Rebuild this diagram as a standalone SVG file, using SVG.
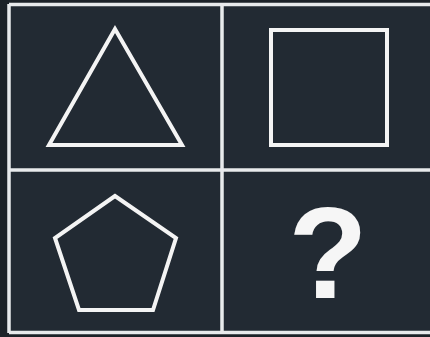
<svg xmlns="http://www.w3.org/2000/svg" width="430" height="337" viewBox="0 0 430 337">
<style>
.cell{fill:#222a33}
.grid{stroke:#e8eaec;stroke-width:3.5;fill:none}
.shape{stroke:#f4f4f4;stroke-width:4;fill:none;stroke-linejoin:miter}
.q{font-family:"Liberation Sans",Arial,sans-serif;font-weight:bold;font-size:130px;fill:#f6f6f6}
</style>
<rect width="430" height="337" fill="#1c2228"/>
<rect class="cell" x="9" y="4" width="421" height="329"/>
<g id="grid">
<path class="grid" d="M9,4.5H430M9,4V333M9,332.5H430M222,4V333M9,170H430"/>
</g>
<g id="triangle"><polygon class="shape" points="115,29 49,145 182,145"/></g>
<g id="square"><rect class="shape" x="271" y="30" width="116" height="115"/></g>
<g id="pentagon"><polygon class="shape" points="115,196 55,238 79,310 153,310 176,238"/></g>
<g id="question"><text class="q" x="328" y="298" text-anchor="middle">?</text></g>
</svg>
